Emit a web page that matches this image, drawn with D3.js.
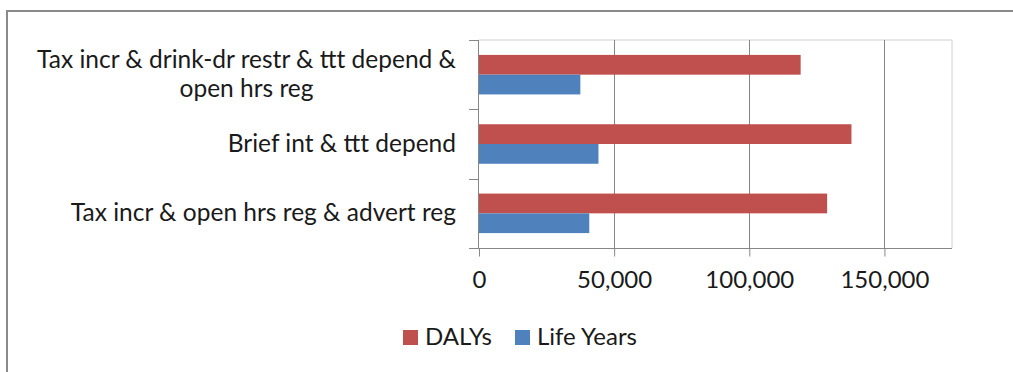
<!DOCTYPE html>
<html>
<head>
<meta charset="utf-8">
<script src="https://cdn.jsdelivr.net/npm/d3@7"></script>
<style>
  html, body { margin: 0; padding: 0; background: #fff; }
  svg { display: block; font-family: Lato, "Liberation Sans", sans-serif; }
</style>
</head>
<body>
<svg id="chart" width="1013" height="372"></svg>
<script>
// Interventions, listed top to bottom
const categories = [
  "Tax incr & drink-dr restr & ttt depend & open hrs reg",
  "Brief int & ttt depend",
  "Tax incr & open hrs reg & advert reg"
];
const seriesNames = ["DALYs", "Life Years"];
const dalys = [119000, 137800, 128800];
const lifeYears = [37500, 44200, 40800];
const xTicks = [0, 50000, 100000, 150000];
const xMax = 175000;

const colors = { "DALYs": "#C0504D", "Life Years": "#4F81BD" };
const rows = categories.map((c, i) => ({ cat: c, values: { "DALYs": dalys[i], "Life Years": lifeYears[i] } }));

const svg = d3.select("#chart");
const plot = { left: 479, right: 952, top: 40, bottom: 248 };
const axisGrey = "#868686";
const fontSize = 24;
const labelFontSize = 24.5;

// outer chart frame
svg.append("rect")
  .attr("x", 7).attr("y", 11)
  .attr("width", 1030).attr("height", 400)
  .attr("fill", "none").attr("stroke", "#8a8a8a").attr("stroke-width", 2);

const x = d3.scaleLinear().domain([0, xMax]).range([plot.left, plot.right]);
const y = d3.scaleBand().domain(categories).range([plot.top, plot.bottom])
  .paddingInner(0.43).paddingOuter(0.215);
const ySub = d3.scaleBand().domain(seriesNames).range([0, y.bandwidth()]);

// plot area border (top / right)
svg.append("path")
  .attr("d", `M${plot.left},${plot.top}H${plot.right}V${plot.bottom}`)
  .attr("fill", "none").attr("stroke", "#d0d0d0").attr("stroke-width", 1);

// vertical gridlines
svg.append("g").selectAll("line")
  .data(xTicks.filter(t => t > 0))
  .join("line")
  .attr("x1", d => Math.round(x(d)) + 0.5).attr("x2", d => Math.round(x(d)) + 0.5)
  .attr("y1", plot.top).attr("y2", plot.bottom)
  .attr("stroke", axisGrey).attr("stroke-width", 1);

// bars
const groups = svg.append("g").selectAll("g")
  .data(rows)
  .join("g")
  .attr("transform", d => `translate(0,${y(d.cat)})`);

groups.selectAll("rect")
  .data(d => seriesNames.map(s => ({ s, v: d.values[s] })))
  .join("rect")
  .attr("x", x(0))
  .attr("y", d => ySub(d.s))
  .attr("width", d => x(d.v) - x(0))
  .attr("height", ySub.bandwidth())
  .attr("fill", d => colors[d.s]);

// x axis
const xAxis = d3.axisBottom(x)
  .tickValues(xTicks)
  .tickSize(8)
  .tickFormat(d3.format(","));
const gx = svg.append("g")
  .attr("transform", `translate(0,${plot.bottom + 0.5})`)
  .call(xAxis);
gx.select(".domain").remove();
gx.append("line")
  .attr("x1", plot.left - 10).attr("x2", plot.right)
  .attr("stroke", axisGrey);
gx.selectAll(".tick line").attr("stroke", axisGrey);
gx.selectAll(".tick text")
  .attr("y", 39).attr("dy", 0)
  .attr("fill", "#1a1a1a")
  .style("font-size", fontSize + "px")
  .style("font-family", "Lato, sans-serif");

// y axis: line plus ticks on band boundaries
const gy = svg.append("g");
gy.append("line")
  .attr("x1", plot.left - 0.5).attr("x2", plot.left - 0.5)
  .attr("y1", plot.top).attr("y2", plot.bottom)
  .attr("stroke", axisGrey);
const step = y.step();
const bounds = d3.range(categories.length + 1).map(i => plot.top + i * step);
gy.selectAll("line.tk")
  .data(bounds)
  .join("line")
  .attr("class", "tk")
  .attr("x1", plot.left - 10).attr("x2", plot.left)
  .attr("y1", d => Math.round(d) + 0.5).attr("y2", d => Math.round(d) + 0.5)
  .attr("stroke", axisGrey);

// category labels, word-wrapped and right-aligned as a block
const labelRight = 456;
const maxLabelWidth = 445;
const lineHeight = 29;
const measurer = svg.append("text")
  .style("font-size", labelFontSize + "px").style("font-family", "Lato, sans-serif");
function textWidth(s) { measurer.text(s); return measurer.node().getComputedTextLength(); }
function wrap(label) {
  const words = label.split(" ");
  const lines = [];
  let cur = "";
  words.forEach(w => {
    const trial = cur ? cur + " " + w : w;
    if (textWidth(trial) > maxLabelWidth && cur) { lines.push(cur); cur = w; }
    else cur = trial;
  });
  lines.push(cur);
  return lines;
}
const gl = svg.append("g");
categories.forEach(c => {
  const lines = wrap(c);
  const blockW = d3.max(lines, textWidth);
  const cx = labelRight - blockW / 2;
  const cy = y(c) + y.bandwidth() / 2;
  const firstBaseline = cy + 8 - (lines.length - 1) * lineHeight / 2;
  const t = gl.append("text")
    .attr("text-anchor", "middle")
    .attr("fill", "#1a1a1a")
    .style("font-size", labelFontSize + "px");
  lines.forEach((ln, i) => {
    t.append("tspan").attr("x", cx).attr("y", firstBaseline + i * lineHeight).text(ln);
  });
});
measurer.remove();

// legend
const legendItems = [
  { name: "DALYs", x: 403 },
  { name: "Life Years", x: 515 }
];
const lg = svg.append("g").selectAll("g")
  .data(legendItems)
  .join("g")
  .attr("transform", d => `translate(${d.x},330)`);
lg.append("rect")
  .attr("width", 15).attr("height", 15)
  .attr("fill", d => colors[d.name]);
lg.append("text")
  .attr("x", 22).attr("y", 15)
  .attr("fill", "#1a1a1a")
  .style("font-size", fontSize + "px")
  .text(d => d.name);
</script>
</body>
</html>
